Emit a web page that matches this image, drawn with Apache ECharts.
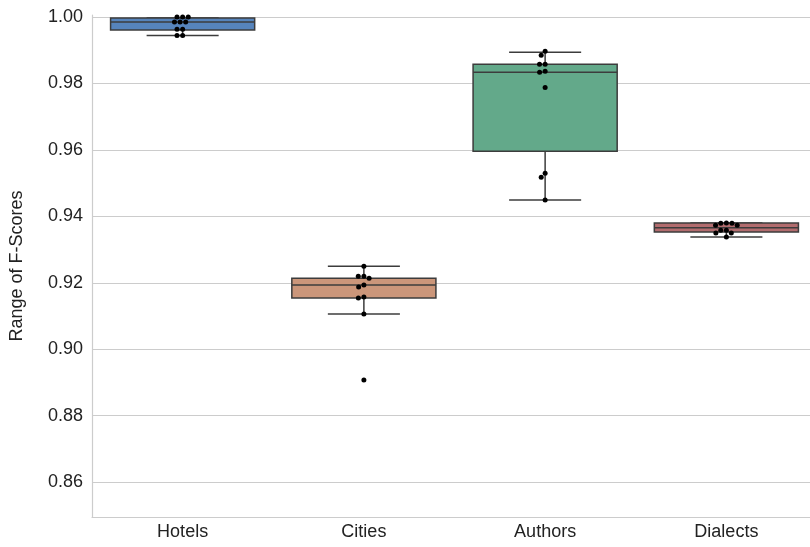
<!DOCTYPE html>
<html>
<head>
<meta charset="utf-8">
<script src="https://cdn.jsdelivr.net/npm/echarts@6/dist/echarts.min.js"></script>
<style>html,body{margin:0;padding:0;background:#fff;overflow:hidden;width:810px;height:547px}#c{width:818px;height:547px}</style>
</head>
<body>
<div id="c"></div>
<script>
// ---- data ----
const categories = ['Hotels', 'Cities', 'Authors', 'Dialects'];
// box stats: [low whisker, Q1, median, Q3, high whisker]
const hotelsBox   = [0.9944, 0.9961, 0.9985, 0.9997, 0.9997];
const citiesBox   = [0.9106, 0.9154, 0.9193, 0.9214, 0.9250];
const authorsBox  = [0.9449, 0.9596, 0.9834, 0.9858, 0.9894];
const dialectsBox = [0.9338, 0.9353, 0.9366, 0.9380, 0.9380];
// individual fold scores (swarm points)
const hotelsPts   = [1.0000, 1.0000, 1.0000, 0.9985, 0.9985, 0.9985, 0.9963, 0.9963, 0.9944, 0.9944];
const citiesPts   = [0.9250, 0.9220, 0.9220, 0.9214, 0.9193, 0.9187, 0.9157, 0.9154, 0.9106, 0.8907];
const authorsPts  = [0.9897, 0.9885, 0.9858, 0.9858, 0.9837, 0.9834, 0.9788, 0.9530, 0.9518, 0.9449];
const dialectsPts = [0.9380, 0.9379, 0.9379, 0.9373, 0.9373, 0.9358, 0.9358, 0.9350, 0.9350, 0.9338];
const yTicks = [0.86, 0.88, 0.90, 0.92, 0.94, 0.96, 0.98, 1.00];
const boxColors = ['#5684bc', '#cb967a', '#63a98a', '#b26c6e'];

const boxes = [hotelsBox, citiesBox, authorsBox, dialectsBox];
const pts = [hotelsPts, citiesPts, authorsPts, dialectsPts];

const boxData = boxes.map((b, i) => [i].concat(b));
const ptData = [];
pts.forEach((arr, i) => arr.forEach((v, j) => ptData.push([i, v, j])));

const edge = '#3c3c3c';

function swarmOffsets(api, cat) {
  const arr = pts[cat];
  const d = 5.6;
  const items = arr.map((v, j) => ({ j, y: api.coord([cat, v])[1] }));
  items.sort((a, b) => a.y - b.y);
  const placed = [];
  const res = {};
  items.forEach(it => {
    let cands = [0];
    placed.forEach(p => {
      const dy = Math.abs(p.y - it.y);
      if (dy < d) {
        const dx = Math.sqrt(d * d - dy * dy);
        cands.push(p.x - dx, p.x + dx);
      }
    });
    cands.sort((a, b) => Math.abs(a) - Math.abs(b) || a - b);
    let chosen = 0;
    for (const c of cands) {
      let ok = true;
      for (const p of placed) {
        const dx = p.x - c, dy = p.y - it.y;
        if (dx * dx + dy * dy < d * d - 0.01) { ok = false; break; }
      }
      if (ok) { chosen = c; break; }
    }
    placed.push({ x: chosen, y: it.y });
    res[it.j] = chosen;
  });
  return res;
}

const chart = echarts.init(document.getElementById('c'), null, { renderer: 'canvas' });
const font = 'Liberation Sans, Arial, Helvetica, sans-serif';
chart.setOption({
  animation: false,
  grid: { left: 91, top: 15, bottom: 30, right: 1 },
  xAxis: {
    type: 'category', data: categories, boundaryGap: true,
    axisLine: { lineStyle: { color: '#cccccc', width: 1.2 } },
    axisTick: { show: false },
    axisLabel: { color: '#222', fontSize: 18, fontFamily: font, margin: 6 },
    splitLine: { show: false }
  },
  yAxis: {
    type: 'value', min: 0.8495, max: 1.0006,
    name: 'Range of F-Scores', nameLocation: 'middle', nameRotate: 90, nameGap: 66,
    nameTextStyle: { color: '#222', fontSize: 18, fontFamily: font },
    axisLine: { show: true, lineStyle: { color: '#cccccc', width: 1.2 } },
    axisTick: { show: false, customValues: yTicks },
    axisLabel: { color: '#222', fontSize: 18, fontFamily: font, margin: 9, customValues: yTicks,
      formatter: v => Number(v).toFixed(2) },
    splitLine: { show: true, lineStyle: { color: '#cccccc', width: 1.2 } }
  },
  series: [
    {
      type: 'custom', data: boxData, z: 2,
      encode: { x: 0, y: [1, 2, 3, 4, 5] },
      renderItem: (params, api) => {
        const cat = api.value(0);
        const band = api.size([1, 0])[0];
        const w = band * 0.795;
        const cw = w / 2;
        const cx = api.coord([cat, 0])[0];
        const yl = api.coord([cat, api.value(1)])[1];
        const yq1 = api.coord([cat, api.value(2)])[1];
        const ym = api.coord([cat, api.value(3)])[1];
        const yq3 = api.coord([cat, api.value(4)])[1];
        const yh = api.coord([cat, api.value(5)])[1];
        const ls = { stroke: edge, lineWidth: 1.5 };
        return {
          type: 'group', children: [
            { type: 'line', shape: { x1: cx, y1: yq1, x2: cx, y2: yl }, style: ls },
            { type: 'line', shape: { x1: cx, y1: yq3, x2: cx, y2: yh }, style: ls },
            { type: 'line', shape: { x1: cx - cw / 2, y1: yl, x2: cx + cw / 2, y2: yl }, style: ls },
            { type: 'line', shape: { x1: cx - cw / 2, y1: yh, x2: cx + cw / 2, y2: yh }, style: ls },
            { type: 'rect', shape: { x: cx - w / 2, y: yq3, width: w, height: yq1 - yq3 },
              style: { fill: boxColors[cat], stroke: edge, lineWidth: 1.5 } },
            { type: 'line', shape: { x1: cx - w / 2, y1: ym, x2: cx + w / 2, y2: ym }, style: ls }
          ]
        };
      }
    },
    {
      type: 'custom', data: ptData, z: 5,
      encode: { x: 0, y: 1 },
      renderItem: (params, api) => {
        const cat = api.value(0);
        const j = api.value(2);
        const offs = swarmOffsets(api, cat);
        const p = api.coord([cat, api.value(1)]);
        return { type: 'circle', shape: { cx: p[0] + offs[j], cy: p[1], r: 2.5 }, style: { fill: '#000' } };
      }
    }
  ]
});
</script>
</body>
</html>
